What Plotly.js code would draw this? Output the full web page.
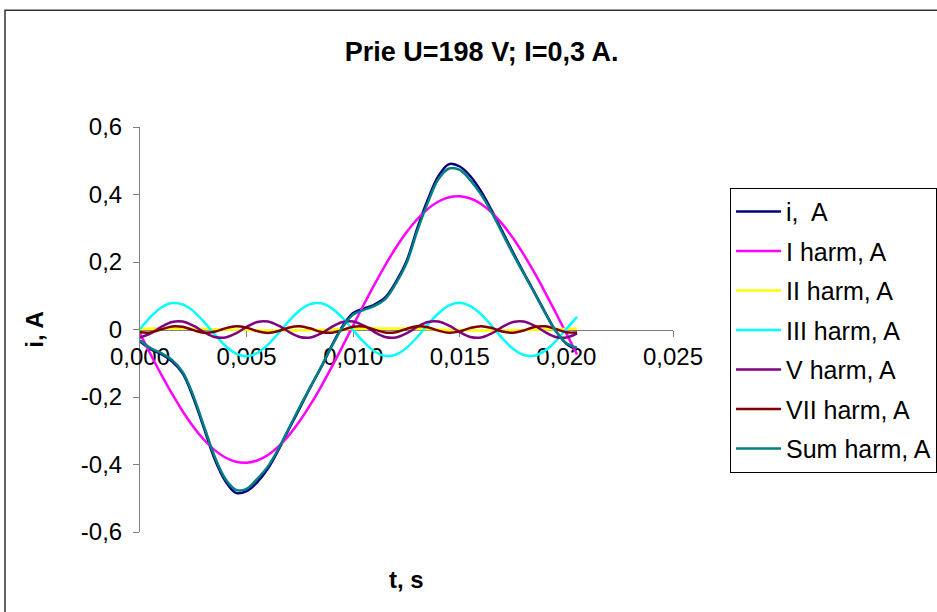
<!DOCTYPE html>
<html>
<head>
<meta charset="utf-8">
<script src="https://cdn.plot.ly/plotly-3.0.1.min.js"></script>
<style>
html,body{margin:0;padding:0;background:#fff;}
#chart{width:937px;height:612px;}
</style>
</head>
<body>
<div id="chart"></div>
<script>
// time, s
var tSec = [0,0.0005,0.001,0.0015,0.002,0.0025,0.003,0.0035,0.004,0.0045,0.005,0.0055,0.006,0.0065,0.007,0.0075,0.008,0.0085,0.009,0.0095,0.01,0.0105,0.011,0.0115,0.012,0.0125,0.013,0.0135,0.014,0.0145,0.015,0.0155,0.016,0.0165,0.017,0.0175,0.018,0.0185,0.019,0.0195,0.02,0.0205];

// measured current, A
var iMeas = [-0.035,-0.058,-0.073,-0.094,-0.130,-0.202,-0.292,-0.384,-0.449,-0.484,-0.479,-0.452,-0.412,-0.356,-0.293,-0.232,-0.170,-0.112,-0.047,0.010,0.049,0.062,0.074,0.095,0.141,0.202,0.299,0.385,0.455,0.490,0.483,0.454,0.409,0.352,0.290,0.228,0.168,0.110,0.051,-0.004,-0.042,-0.060];

// harmonics, A
var harm1 = [-0.0124,-0.0740,-0.1338,-0.1903,-0.2421,-0.2880,-0.3267,-0.3574,-0.3793,-0.3919,-0.3948,-0.3880,-0.3717,-0.3461,-0.3121,-0.2704,-0.2220,-0.1682,-0.1102,-0.0495,0.0124,0.0740,0.1338,0.1903,0.2421,0.2880,0.3267,0.3574,0.3793,0.3919,0.3948,0.3880,0.3717,0.3461,0.3121,0.2704,0.2220,0.1682,0.1102,0.0495,-0.0124,-0.0740];

var harm2 = [0.0018,0.0024,0.0029,0.0030,0.0029,0.0024,0.0018,0.0009,0,-0.0009,-0.0018,-0.0024,-0.0029,-0.0030,-0.0029,-0.0024,-0.0018,-0.0009,0,0.0009,0.0018,0.0024,0.0029,0.0030,0.0029,0.0024,0.0018,0.0009,0,-0.0009,-0.0018,-0.0024,-0.0029,-0.0030,-0.0029,-0.0024,-0.0018,-0.0009,0,0.0009,0.0018,0.0024];

var harm3 = [0.0020,0.0376,0.0651,0.0783,0.0745,0.0545,0.0225,-0.0143,-0.0480,-0.0713,-0.0790,-0.0695,-0.0448,-0.0104,0.0263,0.0572,0.0757,0.0777,0.0627,0.0341,-0.0020,-0.0376,-0.0651,-0.0783,-0.0745,-0.0545,-0.0225,0.0143,0.0480,0.0713,0.0790,0.0695,0.0448,0.0104,-0.0263,-0.0572,-0.0757,-0.0777,-0.0627,-0.0341,0.0020,0.0376];

var harm5 = [-0.0238,-0.0114,0.0077,0.0223,0.0238,0.0114,-0.0077,-0.0223,-0.0238,-0.0114,0.0077,0.0223,0.0238,0.0114,-0.0077,-0.0223,-0.0238,-0.0114,0.0077,0.0223,0.0238,0.0114,-0.0077,-0.0223,-0.0238,-0.0114,0.0077,0.0223,0.0238,0.0114,-0.0077,-0.0223,-0.0238,-0.0114,0.0077,0.0223,0.0238,0.0114,-0.0077,-0.0223,-0.0238,-0.0114];

var harm7 = [-0.0083,-0.0088,0.0003,0.0090,0.0079,-0.0019,-0.0096,-0.0068,0.0034,0.0099,0.0056,-0.0048,-0.0100,-0.0043,0.0061,0.0098,0.0028,-0.0073,-0.0094,-0.0013,0.0083,0.0088,-0.0003,-0.0090,-0.0079,0.0019,0.0096,0.0068,-0.0034,-0.0099,-0.0056,0.0048,0.0100,0.0043,-0.0061,-0.0098,-0.0028,0.0073,0.0094,0.0013,-0.0083,-0.0088];

var harmSum = [-0.032,-0.055,-0.070,-0.090,-0.126,-0.196,-0.286,-0.376,-0.442,-0.475,-0.472,-0.4424,-0.4056,-0.3524,-0.2903,-0.2281,-0.1691,-0.1101,-0.0492,0.0065,0.0443,0.058,0.070,0.090,0.136,0.196,0.291,0.376,0.446,0.477,0.473,0.4420,0.3998,0.3464,0.2845,0.2233,0.1655,0.1083,0.0492,-0.0047,-0.0407,-0.0542];

var seriesNames = ['i,\u00a0 A','I harm, A','II harm, A','III harm, A','V harm, A','VII harm, A','Sum harm, A'];
var seriesColors = ['#000080','#FF00FF','#FFFF00','#00FFFF','#800080','#800000','#008080'];
var seriesData = [iMeas, harm1, harm2, harm3, harm5, harm7, harmSum];

var xTickVals = [0,0.005,0.01,0.015,0.02,0.025];
var xTickText = ['0,000','0,005','0,010','0,015','0,020','0,025'];
var yTickVals = [-0.6,-0.4,-0.2,0,0.2,0.4,0.6];
var yTickText = ['-0,6','-0,4','-0,2','0','0,2','0,4','0,6'];

var FONT = 'Liberation Sans, Arial, Helvetica, sans-serif';

var traces = seriesData.map(function(d, i){
  return {
    x: tSec, y: d, type: 'scatter', mode: 'lines',
    name: seriesNames[i], legendgroup: 'g' + i,
    line: {color: seriesColors[i], width: 2.5, shape: 'spline', smoothing: 1},
    hoverinfo: 'x+y+name'
  };
});

var layout = {
  width: 937, height: 612,
  paper_bgcolor: '#fff', plot_bgcolor: 'rgba(0,0,0,0)',
  margin: {l: 140, r: 264, t: 127, b: 80, autoexpand: false},
  separators: ', ',
  title: {
    text: 'Prie U=198 V; I=0,3 A.',
    font: {family: FONT, size: 27, color: '#000', weight: 'bold'},
    x: 0.514, xanchor: 'center', y: 0.915, yanchor: 'middle'
  },
  xaxis: {
    range: [0, 0.025], anchor: 'free', position: 0.5,
    tickvals: xTickVals, ticktext: xTickText,
    ticks: 'outside', ticklen: 6, tickcolor: '#808080', tickwidth: 1,
    showline: true, linecolor: '#808080', linewidth: 1,
    showgrid: false, zeroline: false, layer: 'below traces',
    tickfont: {family: FONT, size: 24, color: '#000'}
  },
  yaxis: {
    range: [-0.6, 0.6],
    tickvals: yTickVals, ticktext: yTickText,
    ticks: 'outside', ticklen: 6, tickcolor: '#808080', tickwidth: 1,
    ticklabelstandoff: 6,
    showline: true, linecolor: '#808080', linewidth: 1,
    showgrid: false, zeroline: false, layer: 'below traces',
    tickfont: {family: FONT, size: 24, color: '#000'},
    title: {text: 'i, A', font: {family: FONT, size: 24, color: '#000', weight: 'bold'}, standoff: 30}
  },
  showlegend: true,
  legend: {
    x: 1.107, y: 0.85, xanchor: 'left', yanchor: 'top',
    bgcolor: '#fff', bordercolor: '#000', borderwidth: 1,
    font: {family: FONT, size: 25, color: '#000'},
    tracegroupgap: 4, itemwidth: 45
  },
  annotations: [{
    text: '<b>t, s</b>', xref: 'paper', yref: 'paper', x: 0.5, y: -0.117,
    xanchor: 'center', yanchor: 'middle', showarrow: false,
    font: {family: FONT, size: 24, color: '#000'}
  }],
  shapes: [{
    type: 'rect', xref: 'paper', yref: 'paper',
    x0: -0.2533, x1: 1.6, y0: -0.3, y1: 1.2885,
    line: {color: '#333', width: 1.5}, fillcolor: 'rgba(0,0,0,0)', layer: 'below'
  }]
};

Plotly.newPlot('chart', traces, layout, {displayModeBar: false, staticPlot: true});
</script>
</body>
</html>
